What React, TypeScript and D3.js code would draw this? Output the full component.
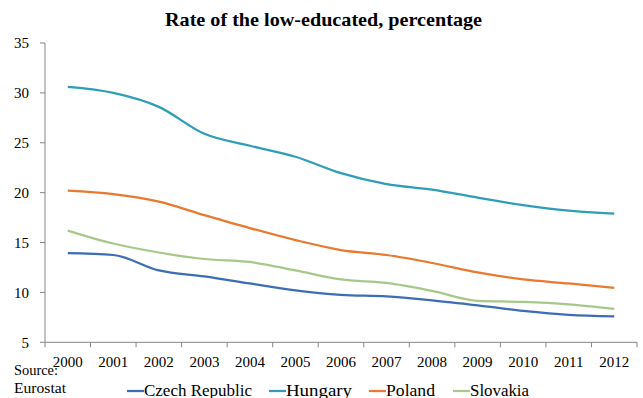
import React from "react";
import * as d3 from "d3";

const years = ["2000","2001","2002","2003","2004","2005","2006","2007","2008","2009","2010","2011","2012"];
const czech = [13.95, 13.75, 12.2, 11.6, 10.9, 10.2, 9.75, 9.6, 9.2, 8.7, 8.15, 7.75, 7.6];
const hungary = [30.6, 30.0, 28.6, 25.9, 24.7, 23.6, 21.95, 20.85, 20.3, 19.5, 18.75, 18.2, 17.9];
const poland = [20.2, 19.85, 19.1, 17.75, 16.45, 15.25, 14.25, 13.75, 12.95, 12.0, 11.3, 10.9, 10.45];
const slovakia = [16.2, 14.9, 14.0, 13.35, 13.05, 12.2, 11.3, 10.95, 10.15, 9.15, 9.05, 8.8, 8.35];
const yTicks = [5, 10, 15, 20, 25, 30, 35];

const seriesNames = ["Czech Republic", "Hungary", "Poland", "Slovakia"];
const seriesColors = ["#3D6DB5", "#2F9DB7", "#E8792F", "#A6C98A"];
const seriesValues = [czech, hungary, poland, slovakia];

const W = 643;
const H = 398;
const FONT = "'Liberation Serif', 'DejaVu Serif', serif";

// legend layout: swatch start and label width per entry
const legendX = [127, 269, 369, 453];
const legendTextW = [108, 66, 49, 59];

export default function App() {
  const x = d3.scaleBand<string>().domain(years).range([45, 637]);
  const y = d3.scaleLinear().domain([5, 35]).range([342.3, 43]);
  const cx = (yr: string) => (x(yr) as number) + x.bandwidth() / 2;
  const line = d3
    .line<number>()
    .x((_, i) => cx(years[i]))
    .y((v) => y(v))
    .curve(d3.curveMonotoneX);

  const xTickPos = [...years.map((yr) => x(yr) as number), 637];

  return (
    <svg width={W} height={H} style={{ position: "absolute", left: 0, top: 0, background: "#fff" }} fontFamily={FONT}>
      <text x={165} y={26} fontSize={19} fontWeight="bold" fill="#000" textLength={317} lengthAdjust="spacingAndGlyphs">
        Rate of the low-educated, percentage
      </text>

      {/* y axis */}
      <line x1={45} x2={45} y1={y(35)} y2={y(5)} stroke="#868686" strokeWidth={1} />
      {yTicks.map((t) => (
        <g key={t}>
          <line x1={40} x2={45} y1={y(t)} y2={y(t)} stroke="#868686" />
          <text x={29} y={y(t)} dy="0.35em" textAnchor="end" fontSize={15} fill="#000">
            {t}
          </text>
        </g>
      ))}

      {/* x axis */}
      <line x1={45} x2={637} y1={y(5)} y2={y(5)} stroke="#868686" />
      {xTickPos.map((p, i) => (
        <line key={i} x1={p} x2={p} y1={y(5)} y2={y(5) + 5} stroke="#868686" />
      ))}
      {years.map((yr) => (
        <text key={yr} x={cx(yr)} y={367} textAnchor="middle" fontSize={15} fill="#000">
          {yr}
        </text>
      ))}

      {seriesValues.map((vals, i) => (
        <path key={seriesNames[i]} d={line(vals) || ""} fill="none" stroke={seriesColors[i]} strokeWidth={2.25} strokeLinejoin="round" />
      ))}

      <text x={14} y={375} fontSize={14} fill="#000" textLength={44} lengthAdjust="spacingAndGlyphs">Source:</text>
      <text x={14} y={393} fontSize={14} fill="#000" textLength={52} lengthAdjust="spacingAndGlyphs">Eurostat</text>

      {seriesNames.map((n, i) => (
        <g key={n}>
          <line x1={legendX[i]} x2={legendX[i] + 17} y1={391} y2={391} stroke={seriesColors[i]} strokeWidth={2.25} />
          <text x={legendX[i] + 17} y={396} fontSize={16} fill="#000" textLength={legendTextW[i]} lengthAdjust="spacingAndGlyphs">
            {n}
          </text>
        </g>
      ))}
    </svg>
  );
}
